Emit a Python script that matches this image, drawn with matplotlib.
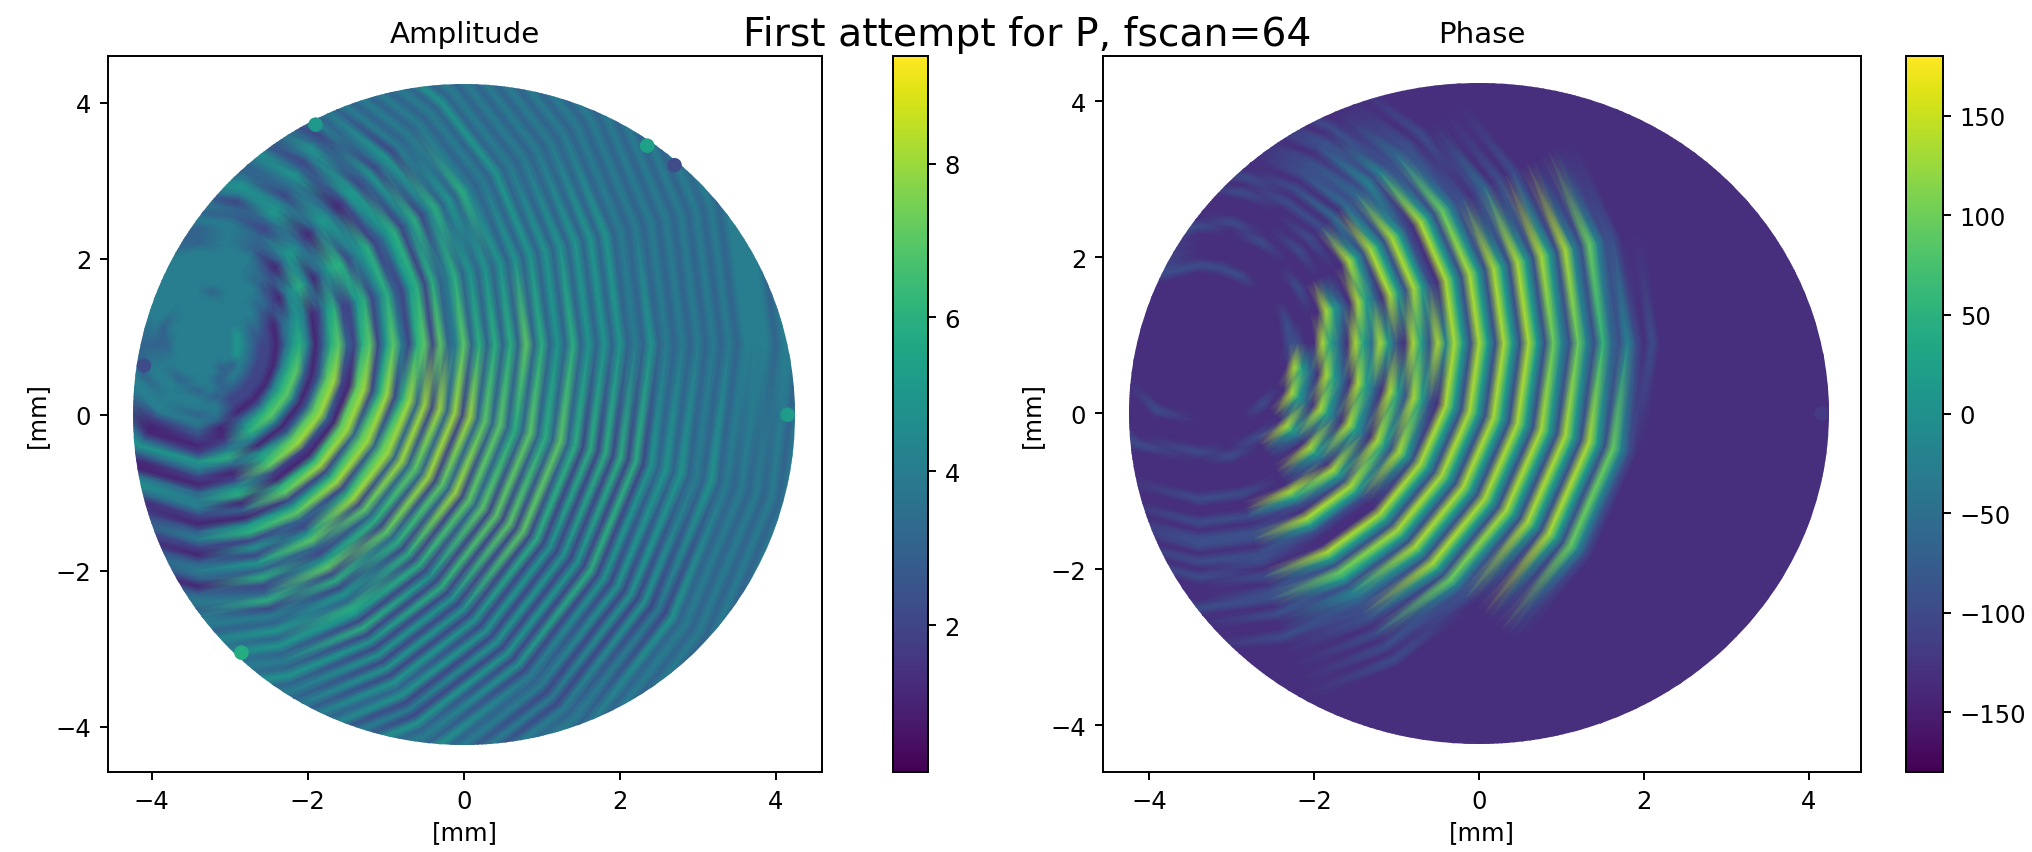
import numpy as np
import matplotlib
matplotlib.use("Agg")
import matplotlib.pyplot as plt
from matplotlib.patches import Circle
from matplotlib.cm import ScalarMappable
from matplotlib.colors import Normalize

W, H = 2033, 853
SUPTITLE = "First attempt for P, fscan=64"
TITLES = ["Amplitude", "Phase"]
AXIS_LABEL = "[mm]"
TICKS = [-4, -2, 0, 2, 4]
AMP_TICKS = [2, 4, 6, 8]
PHASE_TICKS = [-150, -100, -50, 0, 50, 100, 150]
AMP_RANGE = (0.09, 9.4)
PHASE_RANGE = (-180, 180)

# NOTE: this is an approximation, not the original measurement. The reference is a dense
# scatter of thousands of dots, which cannot be read individually. These are coarse estimates
# read by eye along rays leaving the fringe centre, one char per 0.1 mm. Fringe positions are
# approximate, and the fine dot texture and moire of the reference are not reproduced.
FRINGE_CENTRE = (-3.4, 0.9)
RAY_ANGLES = [-180, -150, -120, -90, -75, -60, -45, -30, -15, 0, 15, 30, 45, 60, 75, 90, 120, 150, 180]
RADIAL_STEP = 0.1
AMP_RAYS = [
    "4444333333",
    "4444444434",
    "4444434444 4211353114 5312",
    "4444443443 4321254213 4421342134 3134344344 44444",
    "4444444344 3112463125 6131562525 3623624353 5343534343 43434",
    "4444433322 1356415672 1672573257 3257262536 5262525252 5352425343 5343434444 44",
    "4444334322 1367413782 1682682682 7362736262 6252625252 5252525252 4342424343 4343434444 4444",
    "4444434322 1467413783 1783783783 8373827382 7372727272 6252525262 5252525242 5343434343 4343434",
    "4444454322 1467313782 1782682683 8283828373 7363736373 6262626262 5353534353 4343434344 44",
    "4444454322 1356413673 2672574267 2734736363 6373635363 5353534353 4343434343 4444344344 4444",
    "4444454332 1345412562 2562463256 2634635353 5353535353 5353534343 4343434343 4444344344 4444",
    "4444444443 3214564135 6624562356 2462463536 4343534343 4343434343 4343434444 4444444444",
    "4444444444 4332135542 1355312552 3524524343 4343534343 4343434343 4444444444 44",
    "4444444444 4444333235 5423453245 3243434343 4343434343 44444",
    "4444444344 4444444332 4543345322 4343434344 44",
    "4444444444 4443334343 4433",
    "4444444444 44443",
    "4444434444",
    "4444333333",
]
# Digit d stands for a phase of -170 + 38 d degrees.
PHASE_RAYS = [
    "1111111111",
    "1111111111",
    "1111111111 2111121111",
    "1111111111 1111211111 2112122121 2111211111 1111",
    "1111111111 1111121111 2112122122 1212212112 1111111111 1111",
    "1111111111 1111211111 1185218521 1852752432 2212121211 1111111111 1",
    "1111111111 1211185318 5318528521 1852852852 8527422111 1111111111 1111",
    "1111111111 1118531853 1853185285 2852852852 8528528528 5274211111 1111111111 1111",
    "1111111111 1185318531 8531852852 1852852852 8528528528 5274211111 1111111111 1111111111 1111",
    "1111111111 1221185318 5385218528 4852852852 8527427426 3242121111 1111111111 1111111111 1111",
    "1111111111 1211118531 8531852852 1852852852 8528528427 4221111111 1111111111 11",
    "1111111111 1111211111 1852852852 1852742212 3121211111 1111111111 1111111 1",
    "1111111111 1111111212 1213132324 2422322121 1111111111 11",
    "1111111111 2111121111 1212122212 2121111111 1",
    "1111111111 2111112111 2121111111 11",
    "1111111111 2111121",
    "1111111111 2",
    "1111111111",
    "1111111111",
]

# Dots that stand out on the rim: x, y, value.
AMP_RIM_X = [4.15, -2.85, 2.35, 2.7, -1.9, -4.1]
AMP_RIM_Y = [0.0, -3.05, 3.45, 3.2, 3.72, 0.63]
AMP_RIM_V = [5.2, 5.8, 5.4, 2.2, 5.0, 2.2]
PHASE_RIM_X = [4.15]
PHASE_RIM_Y = [0.0]
PHASE_RIM_V = [-120]
DISK_RADIUS = 4.24


def decode(rays):
    n = max(len(s.replace(" ", "")) for s in rays)
    rows = []
    for s in rays:
        s = s.replace(" ", "")
        s = s + s[-1] * (n - len(s))
        rows.append([int(c) for c in s])
    return np.array(rows, dtype=float)


def px_axes(l, r, t, b):
    return fig.add_axes([l / W, 1 - b / H, (r - l) / W, (b - t) / H])


plt.rcParams.update({
    "font.family": "DejaVu Sans", "font.size": 17.5, "axes.linewidth": 1.4,
    "xtick.major.size": 6, "ytick.major.size": 6,
    "xtick.major.width": 1.4, "ytick.major.width": 1.4,
    "xtick.major.pad": 6, "ytick.major.pad": 6,
})
fig = plt.figure(figsize=(W / 100, H / 100), dpi=100)

panels = [
    dict(box=(108, 822, 57, 773), cbox=(893, 928, 57, 773), xlim=(-4.56, 4.59), ylim=(-4.58, 4.60),
         vals=decode(AMP_RAYS), rng=AMP_RANGE, ticks=AMP_TICKS,
         rim=(AMP_RIM_X, AMP_RIM_Y, AMP_RIM_V), title=TITLES[0]),
    dict(box=(1103, 1861, 57, 773), cbox=(1906, 1943, 57, 773), xlim=(-4.56, 4.63), ylim=(-4.60, 4.58),
         vals=-170 + 38 * decode(PHASE_RAYS), rng=PHASE_RANGE, ticks=PHASE_TICKS,
         rim=(PHASE_RIM_X, PHASE_RIM_Y, PHASE_RIM_V), title=TITLES[1]),
]

for p in panels:
    ax = px_axes(*p["box"])
    vals = p["vals"]
    radii = np.arange(vals.shape[1]) * RADIAL_STEP
    th = np.deg2rad(RAY_ANGLES)
    RR, TT = np.meshgrid(radii, th)
    X = FRINGE_CENTRE[0] + RR * np.cos(TT)
    Y = FRINGE_CENTRE[1] + RR * np.sin(TT)
    norm = Normalize(*p["rng"])
    mesh = ax.pcolormesh(X, Y, vals, shading="gouraud", cmap="viridis", norm=norm, rasterized=True)
    mesh.set_clip_path(Circle((0, 0), DISK_RADIUS, transform=ax.transData))
    ax.scatter(p["rim"][0], p["rim"][1], c=p["rim"][2], cmap="viridis", norm=norm, s=110, linewidths=0)
    ax.set_xlim(*p["xlim"])
    ax.set_ylim(*p["ylim"])
    ax.set_xticks(TICKS)
    ax.set_yticks(TICKS)
    ax.set_xlabel(AXIS_LABEL, labelpad=5)
    ax.set_ylabel(AXIS_LABEL, labelpad=5)
    ax.set_title(p["title"], fontsize=21.2, pad=10)
    cax = px_axes(*p["cbox"])
    cb = fig.colorbar(ScalarMappable(norm=norm, cmap="viridis"), cax=cax)
    cb.set_ticks(p["ticks"])

fig.text(1027 / W, 1 - 35 / H, SUPTITLE, ha="center", va="center", fontsize=28.3)
fig.savefig("out.png", dpi=100)
